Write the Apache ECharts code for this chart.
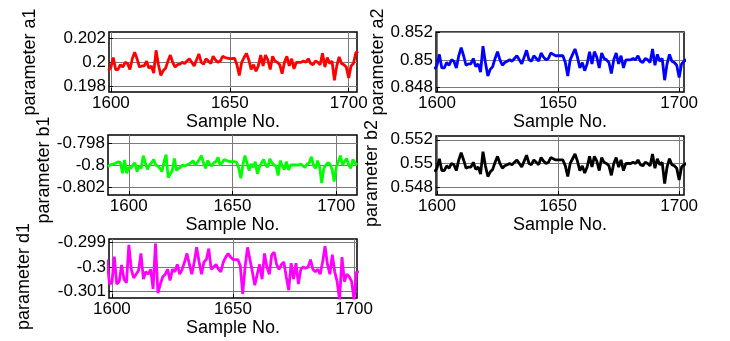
<!DOCTYPE html>
<html>
<head>
<meta charset="utf-8">
<script src="https://cdn.jsdelivr.net/npm/echarts@6/dist/echarts.min.js"></script>
<style>
  html, body { margin: 0; padding: 0; background: #fff; }
  #chart { width: 730px; height: 341px; }
</style>
</head>
<body>
<div id="chart"></div>
<script>
// 各参数的估计值（按样本号连续排列）
const startA1 = 1599;
const a1Values = [
    0.1993, 0.1996, 0.2004, 0.1994, 0.1994, 0.1998, 0.1996, 0.2000, 0.1999, 0.1994,
    0.2003, 0.20085, 0.2003, 0.1996, 0.1997, 0.1997, 0.2001, 0.1995, 0.1997, 0.1991,
    0.2010, 0.1998, 0.1989, 0.1993, 0.1995, 0.2001, 0.2006, 0.2000, 0.1996, 0.1998,
    0.19985, 0.2000, 0.1999, 0.2001, 0.2003, 0.2000, 0.1997, 0.2002, 0.2007, 0.2000,
    0.19985, 0.2003, 0.2001, 0.1999, 0.2005, 0.2002, 0.2000, 0.2001, 0.2005, 0.2004,
    0.20035, 0.2003, 0.2003, 0.20035, 0.1998, 0.1989, 0.2000, 0.2004, 0.20075, 0.2002,
    0.1994, 0.1998, 0.19925, 0.1997, 0.2006, 0.1997, 0.2006, 0.2002, 0.1994, 0.2005,
    0.2001, 0.2000, 0.1998, 0.19905, 0.2000, 0.2005, 0.1997, 0.2003, 0.19945, 0.2000,
    0.2000, 0.2000, 0.2001, 0.2000, 0.2003, 0.1999, 0.1998, 0.2001, 0.2000, 0.1998,
    0.20075, 0.1996, 0.2004, 0.1999, 0.2001, 0.1985, 0.1997, 0.20045, 0.1999, 0.1998,
    0.1996, 0.1987, 0.1997, 0.1999, 0.2008, 0.2009
];

const startA2 = 1599;
const a2Values = [
    0.8493, 0.8496, 0.8504, 0.8494, 0.8494, 0.8498, 0.8496, 0.8500, 0.8499, 0.8494,
    0.8503, 0.8509, 0.8503, 0.8496, 0.8497, 0.8497, 0.8501, 0.8495, 0.8497, 0.8491,
    0.8510, 0.8498, 0.8488, 0.8493, 0.8495, 0.8501, 0.8506, 0.8500, 0.8496, 0.8498,
    0.8499, 0.8500, 0.8499, 0.8501, 0.8503, 0.8500, 0.8497, 0.8502, 0.8507, 0.8500,
    0.8499, 0.8503, 0.8501, 0.8499, 0.8505, 0.8502, 0.8500, 0.8501, 0.8505, 0.8504,
    0.8503, 0.8503, 0.8503, 0.8503, 0.8498, 0.8488, 0.8500, 0.8504, 0.8508, 0.8502,
    0.8494, 0.8498, 0.8492, 0.8497, 0.8506, 0.8497, 0.8506, 0.8502, 0.8494, 0.8505,
    0.8501, 0.8500, 0.8498, 0.8490, 0.8500, 0.8505, 0.8497, 0.8503, 0.8494, 0.8500,
    0.8500, 0.8500, 0.8501, 0.8500, 0.8503, 0.8499, 0.8498, 0.8501, 0.8500, 0.8498,
    0.8508, 0.8496, 0.8504, 0.8499, 0.8501, 0.8485, 0.8497, 0.8504, 0.8499, 0.8498,
    0.8496, 0.8487, 0.8497, 0.8499, 0.8500, 0.8501
];

const startB1 = 1590;
const b1Values = [
    -0.80015, -0.8, -0.79995, -0.7999, -0.7998, -0.7997, -0.7998, -0.80075, -0.79955, -0.80075,
    -0.8002, -0.8003, -0.8, -0.7998, -0.8006, -0.8001, -0.8003, -0.79915, -0.7998, -0.8004,
    -0.8, -0.7998, -0.7995, -0.8, -0.8001, -0.8003, -0.8006, -0.7997, -0.79905, -0.80115,
    -0.8008, -0.8005, -0.7994, -0.8005, -0.8003, -0.8002, -0.8, -0.8001, -0.8, -0.7999,
    -0.7998, -0.7996, -0.8, -0.7998, -0.7995, -0.79915, -0.7998, -0.8003, -0.7996, -0.7999,
    -0.8001, -0.7998, -0.7997, -0.7993, -0.8, -0.7998, -0.7995, -0.7996, -0.79965, -0.7997,
    -0.7997, -0.7997, -0.79975, -0.8003, -0.8012, -0.8, -0.79915, -0.7998, -0.8005, -0.7999,
    -0.8002, -0.7997, -0.8008, -0.8002, -0.7998, -0.7995, -0.8, -0.8002, -0.79945, -0.7998,
    -0.8, -0.8001, -0.80095, -0.7996, -0.8001, -0.8004, -0.7997, -0.80045, -0.8, -0.8,
    -0.8, -0.8, -0.8, -0.7999, -0.8001, -0.8002, -0.7999, -0.7998, -0.79925, -0.8,
    -0.8003, -0.7996, -0.8002, -0.80165, -0.8003, -0.8, -0.7998, -0.7999, -0.8004, -0.8015,
    -0.8002, -0.7997, -0.79915, -0.8, -0.7997, -0.7994, -0.8, -0.8003, -0.7995, -0.7998,
    -0.8
];

const startB2 = 1599;
const b2Values = [
    0.5493, 0.5496, 0.5504, 0.5494, 0.5494, 0.5498, 0.5496, 0.5500, 0.5499, 0.5494,
    0.5503, 0.5509, 0.5503, 0.5496, 0.5497, 0.5497, 0.5501, 0.5495, 0.5497, 0.5491,
    0.5510, 0.5498, 0.5489, 0.5493, 0.5495, 0.5501, 0.5506, 0.5500, 0.5496, 0.5498,
    0.5499, 0.5500, 0.5499, 0.5501, 0.5503, 0.5500, 0.5497, 0.5502, 0.5507, 0.5500,
    0.5499, 0.5503, 0.5501, 0.5499, 0.5505, 0.5502, 0.5500, 0.5501, 0.5505, 0.5504,
    0.5503, 0.5503, 0.5503, 0.5503, 0.5498, 0.5489, 0.5500, 0.5504, 0.5508, 0.5502,
    0.5494, 0.5498, 0.5492, 0.5497, 0.5506, 0.5497, 0.5506, 0.5502, 0.5494, 0.5505,
    0.5501, 0.5500, 0.5498, 0.5490, 0.5500, 0.5505, 0.5497, 0.5503, 0.5494, 0.5500,
    0.5500, 0.5500, 0.5501, 0.5500, 0.5503, 0.5499, 0.5498, 0.5501, 0.5500, 0.5498,
    0.5508, 0.5496, 0.5504, 0.5499, 0.5501, 0.5483, 0.5497, 0.5504, 0.5499, 0.5498,
    0.5496, 0.5486, 0.5497, 0.5499, 0.5500, 0.5501
];

const startD1 = 1598;
const d1Values = [
    -0.2997, -0.3007, -0.30065, -0.29958, -0.3007, -0.3006, -0.29992, -0.3005, -0.30065, -0.2991,
    -0.3001, -0.30045, -0.3003, -0.30015, -0.29945, -0.3005, -0.3002, -0.3003, -0.3001, -0.3009,
    -0.29905, -0.30107, -0.3007, -0.3004, -0.3003, -0.3001, -0.30055, -0.3001, -0.3002, -0.2999,
    -0.3003, -0.3001, -0.2998, -0.29945, -0.2999, -0.3003, -0.2998, -0.2992, -0.2998, -0.3003,
    -0.2998, -0.2997, -0.29925, -0.3001, -0.3, -0.2999, -0.3001, -0.3002, -0.2998, -0.2996,
    -0.29945, -0.2996, -0.2997, -0.2997, -0.2997, -0.29995, -0.3011, -0.3, -0.2992, -0.2997,
    -0.3002, -0.30075, -0.3003, -0.2999, -0.3005, -0.29945, -0.3, -0.3003, -0.2995, -0.2994,
    -0.2999, -0.3001, -0.2999, -0.2998, -0.3004, -0.30095, -0.29985, -0.3005, -0.29985, -0.3007,
    -0.3001, -0.3, -0.30005, -0.3, -0.2997, -0.3001, -0.3002, -0.3001, -0.3003, -0.2998,
    -0.29915, -0.2999, -0.3003, -0.2995, -0.3002, -0.3006, -0.30135, -0.2996, -0.3006, -0.3003,
    -0.3004, -0.3006, -0.30135, -0.3002, -0.3002
];

// 刻度
const xTicks = [1600, 1650, 1700];
const a1Ticks = [0.198, 0.2, 0.202];
const a2Ticks = [0.848, 0.85, 0.852];
const b1Ticks = [-0.802, -0.8, -0.798];
const b2Ticks = [0.548, 0.55, 0.552];
const d1Ticks = [-0.301, -0.3, -0.299];

const FONT = 'Liberation Sans, Arial, sans-serif';

// 子图布局（namePad 用来沿轴方向微调 y 轴标题）
const panels = [
    { name: 'parameter a1', color: '#ff0000', start: startA1, values: a1Values, yTicks: a1Ticks,
      left: 109, top: 32, width: 248, height: 60, xMin: 1599.2, xMax: 1703.5, yMin: 0.19752, yMax: 0.20253, nameGap: 70, namePad: 0 },
    { name: 'parameter a2', color: '#0000ff', start: startA2, values: a2Values, yTicks: a2Ticks,
      left: 436, top: 32, width: 248, height: 60, xMin: 1599.6, xMax: 1702, yMin: 0.84763, yMax: 0.85205, nameGap: 43, namePad: 0 },
    { name: 'parameter b1', color: '#00ff00', start: startB1, values: b1Values, yTicks: b1Ticks,
      left: 108, top: 135, width: 249, height: 60, xMin: 1590, xMax: 1710, yMin: -0.80273, yMax: -0.79727, nameGap: 55, namePad: 10 },
    { name: 'parameter b2', color: '#000000', start: startB2, values: b2Values, yTicks: b2Ticks,
      left: 436, top: 136, width: 248, height: 59, xMin: 1599.6, xMax: 1702, yMin: 0.54734, yMax: 0.55232, nameGap: 55, namePad: 16 },
    { name: 'parameter d1', color: '#ff00ff', start: startD1, values: d1Values, yTicks: d1Ticks,
      left: 109, top: 239, width: 248, height: 59, xMin: 1598.8, xMax: 1701.2, yMin: -0.30127, yMax: -0.29886, nameGap: 76, namePad: 16 }
];

function trimNum(v) {
    return String(+Number(v).toFixed(4));
}

const chart = echarts.init(document.getElementById('chart'));

const option = {
    animation: false,
    backgroundColor: '#fff',
    textStyle: { fontFamily: FONT },
    grid: panels.map(p => ({
        left: p.left, top: p.top, width: p.width, height: p.height,
        show: true, borderColor: '#000', borderWidth: 1.5, backgroundColor: 'transparent'
    })),
    xAxis: panels.map((p, i) => ({
        gridIndex: i,
        type: 'value',
        min: p.xMin,
        max: p.xMax,
        axisLine: { show: false },
        axisTick: { show: true, inside: true, length: 4, customValues: xTicks, lineStyle: { color: '#000' } },
        axisLabel: { customValues: xTicks, fontSize: 17, color: '#000', margin: 3, fontFamily: FONT, formatter: v => String(v) },
        splitLine: { show: true, lineStyle: { color: '#7a7a7a', width: 1 } },
        name: 'Sample No.',
        nameLocation: 'middle',
        nameGap: 16,
        nameTextStyle: { fontSize: 18, color: '#000', fontFamily: FONT }
    })),
    yAxis: panels.map((p, i) => ({
        gridIndex: i,
        type: 'value',
        min: p.yMin,
        max: p.yMax,
        axisLine: { show: false },
        axisTick: { show: true, inside: true, length: 4, customValues: p.yTicks, lineStyle: { color: '#000' } },
        axisLabel: { customValues: p.yTicks, fontSize: 17, color: '#000', margin: 3, fontFamily: FONT, formatter: trimNum },
        splitLine: { show: true, lineStyle: { color: '#7a7a7a', width: 1 } },
        name: p.name,
        nameLocation: 'middle',
        nameGap: p.nameGap,
        nameTextStyle: { fontSize: 18, color: '#000', fontFamily: FONT, padding: [0, p.namePad, 0, 0] }
    })),
    series: panels.map((p, i) => ({
        type: 'line',
        xAxisIndex: i,
        yAxisIndex: i,
        data: p.values.map((v, k) => [p.start + k, v]),
        showSymbol: false,
        clip: true,
        lineStyle: { color: p.color, width: 2.8 },
        itemStyle: { color: p.color }
    }))
};

chart.setOption(option);
</script>
</body>
</html>
